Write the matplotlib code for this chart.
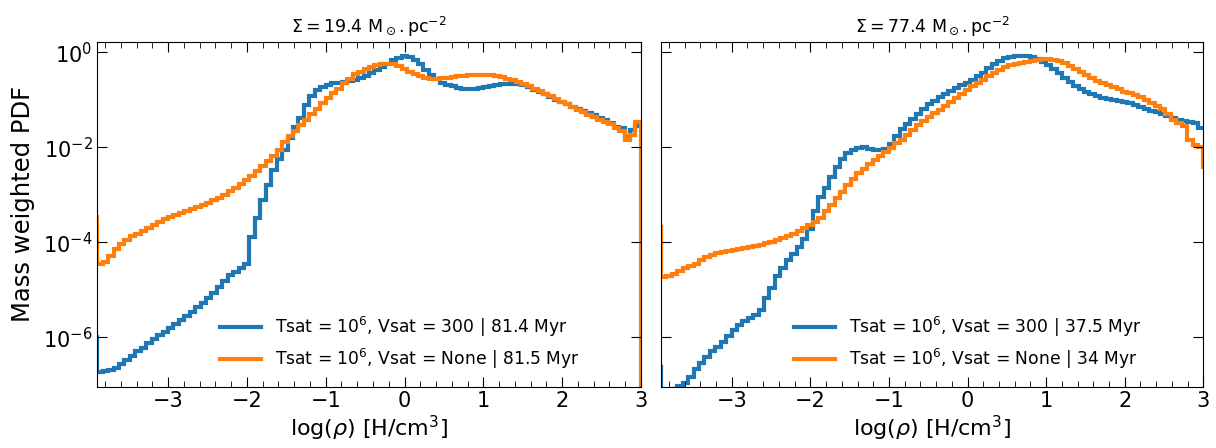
import numpy as np
import matplotlib
matplotlib.use('Agg')
import matplotlib.pyplot as plt
from matplotlib.ticker import MultipleLocator, NullLocator, LogLocator

# log10 of the mass weighted PDF, one value per bin, plus one bin beyond each edge
x_lo, x_hi, n_bins = -3.9, 3.0, 100

left_v300 = [-6.00,
    -6.73, -6.71, -6.68, -6.64, -6.57, -6.49, -6.40, -6.30, -6.22, -6.12,
    -6.04, -5.96, -5.88, -5.80, -5.72, -5.63, -5.55, -5.46, -5.37, -5.28,
    -5.18, -5.06, -4.94, -4.82, -4.69, -4.62, -4.55, -4.46, -3.89, -3.50,
    -3.12, -2.80, -2.48, -2.25, -2.05, -1.80, -1.58, -1.38, -1.12, -0.92,
    -0.80, -0.74, -0.69, -0.66, -0.64, -0.62, -0.60, -0.58, -0.55, -0.50,
    -0.45, -0.38, -0.32, -0.25, -0.17, -0.12, -0.09, -0.10, -0.16, -0.26,
    -0.38, -0.48, -0.57, -0.64, -0.69, -0.72, -0.75, -0.77, -0.78, -0.78,
    -0.76, -0.74, -0.72, -0.70, -0.68, -0.67, -0.67, -0.68, -0.70, -0.74,
    -0.79, -0.84, -0.89, -0.95, -1.01, -1.06, -1.10, -1.15, -1.20, -1.24,
    -1.29, -1.33, -1.38, -1.43, -1.50, -1.57, -1.60, -1.78, -1.64, -1.55,
    -1.55]
left_vnone = [-3.47,
    -4.45, -4.42, -4.30, -4.14, -4.04, -3.96, -3.88, -3.82, -3.76, -3.70,
    -3.64, -3.58, -3.52, -3.47, -3.43, -3.39, -3.35, -3.30, -3.26, -3.22,
    -3.17, -3.12, -3.07, -3.00, -2.93, -2.86, -2.78, -2.70, -2.61, -2.50,
    -2.40, -2.29, -2.18, -2.05, -1.90, -1.76, -1.65, -1.54, -1.42, -1.31,
    -1.20, -1.08, -0.97, -0.87, -0.77, -0.66, -0.56, -0.47, -0.41, -0.36,
    -0.32, -0.28, -0.26, -0.25, -0.26, -0.30, -0.36, -0.42, -0.47, -0.51,
    -0.54, -0.56, -0.56, -0.55, -0.54, -0.52, -0.51, -0.50, -0.49, -0.48,
    -0.48, -0.48, -0.49, -0.51, -0.53, -0.56, -0.59, -0.63, -0.67, -0.72,
    -0.77, -0.82, -0.88, -0.93, -0.98, -1.04, -1.09, -1.15, -1.21, -1.27,
    -1.32, -1.37, -1.42, -1.47, -1.52, -1.60, -1.66, -1.85, -1.75, -1.47,
    -9.00]
right_v300 = [-6.62,
    -7.30, -7.20, -7.08, -7.02, -6.96, -6.84, -6.67, -6.54, -6.41, -6.30,
    -6.20, -6.10, -5.98, -5.84, -5.74, -5.66, -5.60, -5.54, -5.42, -5.17,
    -4.96, -4.72, -4.55, -4.38, -4.24, -4.10, -3.93, -3.72, -3.35, -3.05,
    -2.85, -2.63, -2.42, -2.24, -2.13, -2.06, -2.01, -1.99, -2.03, -2.06,
    -2.06, -2.03, -1.93, -1.76, -1.62, -1.52, -1.40, -1.30, -1.19, -1.10,
    -1.02, -0.94, -0.88, -0.82, -0.76, -0.70, -0.64, -0.58, -0.51, -0.43,
    -0.33, -0.25, -0.18, -0.13, -0.10, -0.08, -0.08, -0.09, -0.11, -0.15,
    -0.20, -0.28, -0.36, -0.45, -0.54, -0.63, -0.71, -0.78, -0.84, -0.89,
    -0.93, -0.96, -0.98, -1.00, -1.02, -1.04, -1.07, -1.11, -1.15, -1.19,
    -1.23, -1.27, -1.30, -1.34, -1.38, -1.43, -1.46, -1.47, -1.50, -1.60,
    -1.60]
right_vnone = [-3.68,
    -4.73, -4.72, -4.67, -4.61, -4.55, -4.50, -4.45, -4.38, -4.32, -4.27,
    -4.23, -4.20, -4.18, -4.16, -4.14, -4.12, -4.10, -4.08, -4.05, -4.02,
    -3.99, -3.96, -3.92, -3.87, -3.83, -3.77, -3.71, -3.64, -3.58, -3.50,
    -3.35, -3.22, -3.08, -2.95, -2.80, -2.66, -2.55, -2.45, -2.36, -2.28,
    -2.19, -2.10, -2.01, -1.92, -1.84, -1.74, -1.63, -1.54, -1.45, -1.36,
    -1.28, -1.21, -1.13, -1.05, -0.97, -0.88, -0.80, -0.72, -0.65, -0.58,
    -0.50, -0.43, -0.37, -0.32, -0.28, -0.25, -0.23, -0.20, -0.18, -0.16,
    -0.15, -0.15, -0.16, -0.18, -0.23, -0.29, -0.36, -0.42, -0.49, -0.55,
    -0.61, -0.66, -0.70, -0.74, -0.78, -0.83, -0.86, -0.91, -0.95, -1.01,
    -1.07, -1.13, -1.20, -1.30, -1.43, -1.49, -1.55, -1.85, -1.96, -1.99,
    -2.41]

titles = [r'$\Sigma = 19.4\ \rm M_\odot . pc^{-2}$',
          r'$\Sigma = 77.4\ \rm M_\odot . pc^{-2}$']
labels_left = [r'Tsat = $10^6$, Vsat = 300 | 81.4 Myr',
               r'Tsat = $10^6$, Vsat = None | 81.5 Myr']
labels_right = [r'Tsat = $10^6$, Vsat = 300 | 37.5 Myr',
                r'Tsat = $10^6$, Vsat = None | 34 Myr']

fig = plt.figure(figsize=(12.16, 4.48), dpi=100)
ax0 = fig.add_axes([0.080, 0.137, 0.447, 0.770])
ax1 = fig.add_axes([0.5436, 0.137, 0.446, 0.770], sharey=ax0)

w = (x_hi - x_lo) / n_bins
edges = np.linspace(x_lo - w, x_hi + w, n_bins + 3)

panels = [(ax0, left_v300, left_vnone, labels_left, titles[0]),
          (ax1, right_v300, right_vnone, labels_right, titles[1])]
for ax, blue, orange, labs, tt in panels:
    ax.stairs(10**np.array(blue), edges, baseline=None, color='#1f77b4', lw=3, label=labs[0])
    ax.stairs(10**np.array(orange), edges, baseline=None, color='#ff7f0e', lw=3, label=labs[1])
    ax.set_yscale('log')
    ax.set_xlim(x_lo, x_hi)
    ax.set_ylim(10**-7.04, 10**0.22)
    ax.xaxis.set_major_locator(MultipleLocator(1))
    ax.xaxis.set_minor_locator(MultipleLocator(0.2))
    ax.yaxis.set_major_locator(LogLocator(base=100))
    ax.yaxis.set_minor_locator(NullLocator())
    ax.tick_params(which='both', direction='in', top=True, right=True, labelsize=15)
    ax.tick_params(which='major', length=7)
    ax.tick_params(which='minor', length=4)
    ax.set_xlabel(r'log($\rho$) [H/cm$^3$]', fontsize=16, labelpad=2)
    ax.set_title(tt, fontsize=12.5)
    ax.legend(loc='lower right', bbox_to_anchor=(0.915, 0.0), frameon=False,
              fontsize=12.3, labelspacing=0.48, handlelength=2.4, handletextpad=0.8)

ax0.set_ylabel('Mass weighted PDF', fontsize=17.5)
ax0.yaxis.set_label_coords(-0.115, 0.53)
plt.setp(ax1.get_yticklabels(), visible=False)

fig.savefig('out.png', dpi=100)
